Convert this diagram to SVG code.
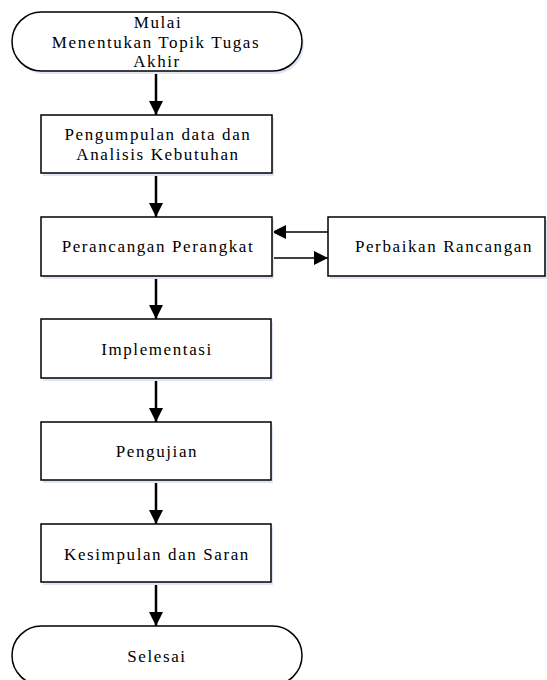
<svg xmlns="http://www.w3.org/2000/svg" width="547" height="680" viewBox="0 0 547 680">
<defs>
<style>
.n{fill:#fff;stroke:#000;stroke-width:1.5}
.sh{fill:#dde6f2;stroke:none}
.c{stroke:#000;fill:none}
.v{stroke-width:2.5}
.h{stroke-width:1.5}
.t{font-family:"Liberation Serif",serif;font-size:17px;text-anchor:middle;fill:#000;letter-spacing:1.6px}
</style>
<marker id="ah" markerUnits="userSpaceOnUse" viewBox="0 0 12 12" refX="12" refY="6" markerWidth="14" markerHeight="14" orient="auto">
<path d="M0,0 L12,6 L0,12 Z" fill="#000"/>
</marker>
</defs>
<rect width="547" height="680" fill="#fff"/>
<g id="connectors">
<line class="c v" x1="156" y1="71" x2="156" y2="115" marker-end="url(#ah)"/>
<line class="c v" x1="156" y1="173" x2="156" y2="217" marker-end="url(#ah)"/>
<line class="c h" x1="328" y1="232" x2="272" y2="232" marker-end="url(#ah)"/>
<line class="c h" x1="272" y1="258" x2="328" y2="258" marker-end="url(#ah)"/>
<line class="c v" x1="156" y1="276" x2="156" y2="319" marker-end="url(#ah)"/>
<line class="c v" x1="156" y1="378" x2="156" y2="422" marker-end="url(#ah)"/>
<line class="c v" x1="156" y1="480" x2="156" y2="524" marker-end="url(#ah)"/>
<line class="c v" x1="156" y1="582" x2="156" y2="626" marker-end="url(#ah)"/>
</g>
<g id="mulai">
<rect class="sh" x="14" y="15" width="290" height="59" rx="29.5"/>
<rect class="n" x="12" y="12" width="290" height="59" rx="29.5"/>
<text class="t" x="158" y="28">Mulai</text>
<text class="t" x="156" y="48">Menentukan Topik Tugas</text>
<text class="t" x="157" y="67">Akhir</text>
</g>
<g id="pengumpulan">
<rect class="sh" x="43" y="118" width="231" height="58"/>
<rect class="n" x="41" y="115" width="231" height="58"/>
<text class="t" x="158" y="140">Pengumpulan data dan</text>
<text class="t" x="158" y="160">Analisis Kebutuhan</text>
</g>
<g id="perancangan">
<rect class="sh" x="43" y="220" width="231" height="59"/>
<rect class="n" x="41" y="217" width="231" height="59"/>
<text class="t" x="158" y="252">Perancangan Perangkat</text>
</g>
<g id="perbaikan">
<rect class="sh" x="330" y="220" width="217" height="59"/>
<rect class="n" x="328" y="217" width="217" height="59"/>
<text class="t" x="444" y="252">Perbaikan Rancangan</text>
</g>
<g id="implementasi">
<rect class="sh" x="43" y="322" width="230" height="59"/>
<rect class="n" x="41" y="319" width="230" height="59"/>
<text class="t" x="157" y="355">Implementasi</text>
</g>
<g id="pengujian">
<rect class="sh" x="43" y="425" width="230" height="58"/>
<rect class="n" x="41" y="422" width="230" height="58"/>
<text class="t" x="157" y="457">Pengujian</text>
</g>
<g id="kesimpulan">
<rect class="sh" x="43" y="527" width="230" height="58"/>
<rect class="n" x="41" y="524" width="230" height="58"/>
<text class="t" x="157" y="560">Kesimpulan dan Saran</text>
</g>
<g id="selesai">
<rect class="n" x="12" y="626" width="290" height="59" rx="29.5"/>
<text class="t" x="157" y="662">Selesai</text>
</g>
</svg>
